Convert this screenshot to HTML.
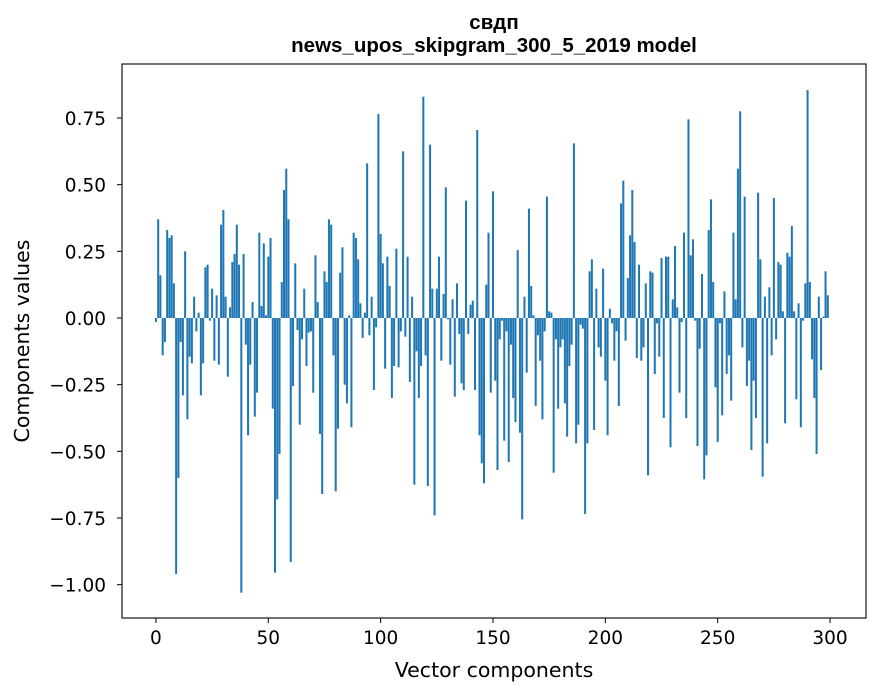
<!DOCTYPE html>
<html><head><meta charset="utf-8"><style>
html,body{margin:0;padding:0;background:#fff;}
svg{display:block;}
.tick{font-family:"DejaVu Sans","Liberation Sans",sans-serif;font-size:18.5px;fill:#000;}
.lab{font-family:"DejaVu Sans","Liberation Sans",sans-serif;font-size:20.5px;fill:#000;}
.ttl{font-family:"Liberation Sans","DejaVu Sans",sans-serif;font-size:20.5px;font-weight:bold;fill:#000;}
</style></head><body>
<svg id="chart" width="880" height="696">
<rect x="0" y="0" width="880" height="696" fill="#fff"/>
<text class="ttl" x="494" y="29" text-anchor="middle">свдп</text>
<text class="ttl" x="494" y="52" text-anchor="middle">news_upos_skipgram_300_5_2019 model</text>
<g id="bars"></g>
<g id="axes"></g>
<text class="lab" x="494" y="677" text-anchor="middle">Vector components</text>
<text class="lab" x="29" y="341" text-anchor="middle" transform="rotate(-90 29 341)">Components values</text>
</svg>
<script>
const values = [
-0.015,0.37,0.16,-0.14,-0.09,0.33,0.30,0.31,0.13,-0.96,
-0.60,-0.09,-0.29,0.25,-0.38,-0.145,-0.17,0.08,-0.05,0.02,
-0.29,-0.17,0.19,0.20,-0.01,0.11,-0.16,0.085,-0.175,0.35,
0.405,0.08,-0.22,0.04,0.21,0.24,0.35,0.20,-1.03,0.24,
-0.10,-0.44,-0.175,0.06,-0.37,-0.28,0.32,0.045,0.28,0.01,
0.23,0.30,-0.34,-0.955,-0.68,-0.51,0.135,0.48,0.56,0.37,
-0.915,-0.255,0.205,-0.045,-0.40,-0.08,0.11,-0.18,-0.055,-0.05,
-0.28,0.235,0.06,-0.435,-0.66,0.175,0.135,0.37,0.35,-0.14,
-0.65,-0.415,0.17,0.265,-0.25,-0.32,0.01,-0.41,0.32,0.30,
0.22,0.055,-0.075,0.02,0.58,-0.065,0.08,-0.27,-0.035,0.765,
0.315,0.205,-0.19,0.23,0.12,-0.30,-0.18,0.26,-0.185,-0.05,
0.625,-0.07,0.23,-0.24,0.08,-0.625,-0.125,-0.30,-0.18,0.83,
-0.14,-0.63,0.65,0.11,-0.74,0.11,0.23,-0.16,0.09,0.49,
-0.005,-0.175,0.07,-0.295,0.13,-0.06,-0.245,-0.27,0.44,-0.06,
0.05,0.065,-0.27,0.705,-0.44,-0.545,-0.62,0.125,0.32,-0.28,
0.475,-0.235,-0.57,-0.08,-0.01,-0.46,-0.05,-0.54,-0.10,-0.30,
-0.39,0.255,-0.43,-0.755,0.08,-0.205,0.41,0.12,0.01,-0.33,
-0.065,-0.16,-0.38,-0.05,0.455,0.025,0.02,-0.58,-0.08,-0.34,
-0.11,-0.08,-0.32,-0.445,-0.18,-0.10,0.655,-0.47,-0.40,-0.025,
-0.04,-0.735,-0.47,0.175,0.22,-0.42,0.11,-0.11,-0.145,0.185,
-0.235,-0.44,0.035,-0.02,-0.16,-0.05,-0.33,0.43,0.515,-0.085,
0.15,0.31,0.48,0.285,-0.15,0.20,-0.16,-0.11,0.13,-0.59,
0.175,0.17,-0.21,-0.02,-0.145,0.225,-0.375,0.23,0.23,-0.485,
0.07,0.27,0.04,-0.28,-0.015,0.32,-0.375,0.745,0.235,0.295,
-0.01,-0.48,-0.115,0.165,-0.605,-0.515,0.33,0.445,0.135,-0.26,
-0.465,-0.02,-0.365,0.10,-0.21,-0.14,-0.31,0.32,0.07,0.56,
0.775,-0.11,0.455,-0.255,-0.16,-0.495,-0.235,-0.375,0.47,0.22,
-0.595,0.08,-0.47,0.115,-0.14,0.45,-0.08,0.21,0.20,0.025,
-0.395,0.245,0.23,0.345,0.025,-0.305,0.055,-0.41,-0.01,0.13,
0.855,0.135,-0.155,-0.30,-0.51,0.08,-0.195,0.005,0.175,0.085
];
const xTicks = [0,50,100,150,200,250,300];
const yTicks = [-1.00,-0.75,-0.50,-0.25,0.00,0.25,0.50,0.75];
const yTickLabels = ["\u22121.00","\u22120.75","\u22120.50","\u22120.25","0.00","0.25","0.50","0.75"];

const NS="http://www.w3.org/2000/svg";
const L=122,R=866,T=64,B=618;
const xMin=-15.1,xMax=316.0,yMin=-1.125,yMax=0.9525;
const xs=v=>L+(v-xMin)/(xMax-xMin)*(R-L);
const ys=v=>B-(v-yMin)/(yMax-yMin)*(B-T);
const bars=document.getElementById('bars');
values.forEach((v,i)=>{
  const r=document.createElementNS(NS,'rect');
  const x0=xs(i-0.45),x1=xs(i+0.45);
  const y0=ys(Math.max(v,0)),y1=ys(Math.min(v,0));
  r.setAttribute('x',x0);r.setAttribute('width',x1-x0);
  r.setAttribute('y',y0);r.setAttribute('height',Math.max(y1-y0,0.01));
  r.setAttribute('fill','#1f77b4');
  
  
  bars.appendChild(r);
});
const ax=document.getElementById('axes');
const frame=document.createElementNS(NS,'rect');
frame.setAttribute('x',L);frame.setAttribute('y',T);frame.setAttribute('width',R-L);frame.setAttribute('height',B-T);
frame.setAttribute('fill','none');frame.setAttribute('stroke','#000');frame.setAttribute('stroke-width','1.1');


ax.appendChild(frame);
xTicks.forEach(t=>{
  const x=xs(t);
  const l=document.createElementNS(NS,'line');
  l.setAttribute('x1',x);l.setAttribute('x2',x);l.setAttribute('y1',B);l.setAttribute('y2',B+5);l.setAttribute('stroke','#000');
  
  
  ax.appendChild(l);
  const tx=document.createElementNS(NS,'text');
  tx.setAttribute('x',x);tx.setAttribute('y',B+26);tx.setAttribute('text-anchor','middle');tx.setAttribute('class','tick');
  tx.textContent=t;
  
  
  ax.appendChild(tx);
});
yTicks.forEach((t,k)=>{
  const y=ys(t);
  const l=document.createElementNS(NS,'line');
  l.setAttribute('x1',L-5);l.setAttribute('x2',L);l.setAttribute('y1',y);l.setAttribute('y2',y);l.setAttribute('stroke','#000');
  
  
  ax.appendChild(l);
  const tx=document.createElementNS(NS,'text');
  tx.setAttribute('x',L-16);tx.setAttribute('y',y+7);tx.setAttribute('text-anchor','end');tx.setAttribute('class','tick');
  tx.textContent=yTickLabels[k];
  
  
  ax.appendChild(tx);
});
</script>
</body></html>
